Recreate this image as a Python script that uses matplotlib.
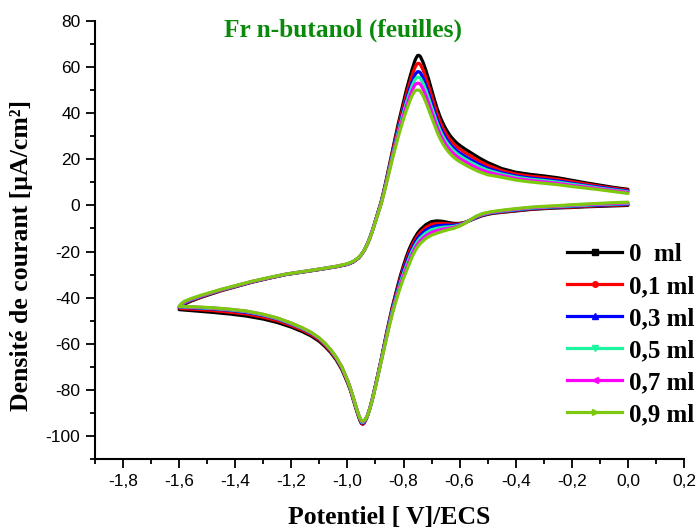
import matplotlib
matplotlib.use("Agg")
import matplotlib.pyplot as plt
from matplotlib.lines import Line2D
from matplotlib.ticker import MultipleLocator, FuncFormatter
import numpy as np

plt.rcParams['axes.unicode_minus'] = False

# ---- data -------------------------------------------------------------
labels = ["0  ml", "0,1 ml", "0,3 ml", "0,5 ml", "0,7 ml", "0,9 ml"]
colors = ["#000000", "#FF0000", "#0000FF", "#1DF5A0", "#FF00FF", "#7DC90F"]
markers = ["s", "o", "^", "v", "<", ">"]

# forward (cathodic) sweep: 0.0 V -> -1.6 V
E_cathodic = [0.0, -0.05, -0.1, -0.15, -0.2, -0.25, -0.3, -0.35, -0.4, -0.45,
              -0.48, -0.50, -0.52, -0.54, -0.56, -0.58, -0.60, -0.62, -0.64, -0.66,
              -0.68, -0.70, -0.72, -0.74, -0.75, -0.76, -0.77, -0.78, -0.79, -0.80,
              -0.81, -0.82, -0.83, -0.84, -0.85, -0.86, -0.87, -0.88, -0.89, -0.90,
              -0.91, -0.92, -0.93, -0.94, -0.945, -0.95, -0.955, -0.96, -0.97, -0.98,
              -0.99, -1.00, -1.02, -1.04, -1.06, -1.08, -1.10, -1.13, -1.16, -1.20,
              -1.25, -1.30, -1.36, -1.42, -1.48, -1.54, -1.57, -1.59, -1.60]

# reverse (anodic) sweep: -1.6 V -> 0.0 V
E_anodic = [-1.60, -1.59, -1.58, -1.57, -1.555, -1.54, -1.52, -1.50, -1.45, -1.40,
            -1.34, -1.28, -1.22, -1.16, -1.10, -1.04, -1.00, -0.98, -0.96, -0.95,
            -0.94, -0.93, -0.92, -0.91, -0.90, -0.89, -0.88, -0.87, -0.86, -0.85,
            -0.84, -0.83, -0.82, -0.81, -0.80, -0.79, -0.78, -0.77, -0.76, -0.755,
            -0.75, -0.745, -0.74, -0.73, -0.72, -0.71, -0.70, -0.69, -0.68, -0.67,
            -0.66, -0.65, -0.64, -0.63, -0.62, -0.61, -0.60, -0.58, -0.56, -0.53,
            -0.50, -0.45, -0.40, -0.35, -0.30, -0.25, -0.20, -0.15, -0.10, -0.05,
            0.0]

# current densities (uA/cm2), one list per added volume
j_cath_0 = [0.0, -0.2, -0.4, -0.6, -0.9, -1.1, -1.4, -1.8, -2.4, -3.0,
            -3.4, -3.9, -4.5, -5.4, -6.4, -7.3, -7.8, -7.8, -7.4, -6.9,
            -6.7, -7.0, -8.3, -10.5, -12.0, -14.0, -16.3, -19.0, -22.3, -26.0,
            -30.0, -34.5, -39.2, -44.0, -49.4, -55.0, -61.0, -67.0, -72.6, -78.0,
            -83.3, -88.0, -91.8, -94.2, -94.8, -94.6, -93.4, -91.8, -88.0, -84.0,
            -80.0, -76.8, -71.2, -67.0, -63.8, -61.2, -59.0, -56.6, -54.8, -52.8,
            -50.8, -49.3, -48.0, -47.1, -46.4, -45.8, -45.5, -45.3, -45.2]
j_cath_01 = [0.3, 0.1, -0.1, -0.4, -0.7, -0.9, -1.2, -1.6, -2.2, -2.8,
             -3.2, -3.7, -4.3, -5.2, -6.3, -7.4, -8.0, -8.2, -8.0, -7.8,
             -7.8, -8.2, -9.5, -11.7, -13.2, -15.2, -17.5, -20.3, -23.6, -27.1,
             -31.0, -35.4, -39.9, -44.6, -49.9, -55.4, -61.3, -67.2, -72.8, -78.2,
             -83.4, -88.0, -91.9, -94.4, -95.0, -94.6, -93.0, -91.4, -87.6, -83.6,
             -79.6, -76.4, -70.7, -66.5, -63.3, -60.6, -58.4, -56.0, -54.1, -52.1,
             -50.0, -48.5, -47.1, -46.3, -45.6, -45.1, -44.9, -44.7, -44.6]
j_cath_03 = [0.6, 0.4, 0.1, -0.1, -0.4, -0.7, -1.0, -1.4, -2.0, -2.6,
             -3.1, -3.5, -4.1, -5.1, -6.3, -7.5, -8.3, -8.6, -8.6, -8.6,
             -8.8, -9.4, -10.7, -12.9, -14.4, -16.4, -18.8, -21.6, -24.8, -28.2,
             -32.0, -36.2, -40.6, -45.3, -50.4, -55.9, -61.6, -67.4, -72.9, -78.3,
             -83.5, -88.1, -91.7, -93.9, -94.5, -94.2, -92.6, -91.0, -87.3, -83.3,
             -79.3, -76.0, -70.3, -66.1, -62.8, -60.2, -57.9, -55.4, -53.5, -51.5,
             -49.3, -47.7, -46.4, -45.5, -44.9, -44.5, -44.3, -44.2, -44.2]
j_cath_05 = [0.8, 0.6, 0.4, 0.1, -0.2, -0.5, -0.8, -1.2, -1.8, -2.5,
             -2.9, -3.4, -4.0, -4.9, -6.2, -7.5, -8.5, -9.1, -9.3, -9.5,
             -9.9, -10.5, -11.9, -14.1, -15.6, -17.6, -20.0, -22.9, -26.1, -29.4,
             -33.0, -37.1, -41.4, -45.9, -51.0, -56.3, -62.0, -67.6, -73.1, -78.5,
             -83.6, -88.1, -91.7, -93.7, -94.2, -93.9, -92.5, -90.9, -87.2, -83.2,
             -79.2, -75.9, -70.2, -66.0, -62.7, -60.0, -57.7, -55.2, -53.4, -51.3,
             -49.1, -47.5, -46.1, -45.3, -44.7, -44.3, -44.1, -44.0, -44.0]
j_cath_07 = [1.1, 0.9, 0.6, 0.4, 0.1, -0.3, -0.6, -1.0, -1.6, -2.3,
             -2.8, -3.2, -3.8, -4.8, -6.2, -7.6, -8.8, -9.5, -9.9, -10.3,
             -10.9, -11.7, -13.1, -15.3, -16.8, -18.8, -21.3, -24.2, -27.3, -30.5,
             -34.0, -37.9, -42.1, -46.6, -51.5, -56.8, -62.3, -67.8, -73.2, -78.6,
             -83.7, -88.2, -91.6, -93.4, -93.9, -93.5, -92.4, -90.9, -87.1, -83.1,
             -79.1, -75.8, -70.1, -65.9, -62.6, -59.9, -57.6, -55.1, -53.2, -51.1,
             -48.9, -47.3, -45.9, -45.1, -44.5, -44.1, -44.0, -43.9, -43.9]
j_cath_09 = [1.4, 1.2, 0.9, 0.6, 0.3, -0.1, -0.4, -0.8, -1.4, -2.1,
             -2.6, -3.0, -3.6, -4.6, -6.1, -7.7, -9.0, -9.9, -10.5, -11.2,
             -12.0, -12.9, -14.3, -16.5, -18.0, -20.0, -22.5, -25.5, -28.6, -31.6,
             -35.0, -38.8, -42.8, -47.2, -52.0, -57.2, -62.6, -68.0, -73.4, -78.8,
             -83.8, -88.2, -91.6, -93.3, -93.6, -93.3, -92.3, -90.8, -87.0, -83.0,
             -79.0, -75.7, -70.0, -65.8, -62.5, -59.8, -57.5, -55.0, -53.1, -51.0,
             -48.8, -47.2, -45.8, -45.0, -44.4, -44.0, -43.9, -43.8, -43.8]

j_anod_0 = [-45.2, -43.6, -42.8, -42.2, -41.4, -40.7, -39.8, -39.0, -37.0, -35.3,
            -33.3, -31.6, -30.0, -28.9, -27.8, -26.6, -25.6, -24.6, -22.8, -21.3,
            -19.5, -17.0, -14.0, -10.5, -6.5, -2.5, 1.5, 6.5, 12.0, 17.8,
            23.5, 29.2, 34.8, 40.0, 45.0, 50.0, 54.5, 58.8, 62.6, 64.0,
            65.0, 65.1, 64.6, 62.0, 58.5, 54.5, 50.2, 46.0, 42.0, 38.6,
            35.8, 33.4, 31.4, 29.7, 28.3, 27.1, 26.1, 24.4, 22.9, 20.6,
            18.6, 16.0, 14.4, 13.5, 12.8, 12.0, 10.9, 9.8, 8.8, 7.8,
            7.0]
j_anod_01 = [-44.6, -43.3, -42.5, -41.9, -41.1, -40.5, -39.6, -38.8, -36.9, -35.2,
             -33.2, -31.5, -30.0, -28.9, -27.8, -26.6, -25.5, -24.5, -22.8, -21.3,
             -19.5, -17.0, -14.0, -10.6, -6.6, -2.7, 1.3, 6.2, 11.5, 17.2,
             22.7, 28.2, 33.5, 38.5, 43.3, 48.0, 52.2, 56.2, 59.6, 60.8,
             61.6, 61.6, 61.2, 58.7, 55.3, 51.5, 47.4, 43.5, 39.7, 36.4,
             33.7, 31.4, 29.5, 27.9, 26.6, 25.4, 24.5, 22.8, 21.4, 19.2,
             17.4, 15.1, 13.6, 12.7, 12.1, 11.3, 10.3, 9.3, 8.3, 7.4,
             6.6]
j_anod_03 = [-44.2, -43.0, -42.2, -41.6, -40.9, -40.2, -39.4, -38.6, -36.7, -35.1,
             -33.1, -31.5, -29.9, -28.8, -27.7, -26.5, -25.5, -24.5, -22.7, -21.3,
             -19.5, -17.0, -14.1, -10.6, -6.7, -2.8, 1.0, 5.8, 11.1, 16.5,
             21.9, 27.1, 32.2, 36.9, 41.5, 45.9, 49.8, 53.5, 56.5, 57.4,
             58.0, 58.0, 57.6, 55.2, 52.0, 48.4, 44.6, 40.8, 37.2, 34.1,
             31.6, 29.4, 27.6, 26.0, 24.8, 23.7, 22.8, 21.2, 19.8, 17.8,
             16.1, 14.2, 12.8, 11.9, 11.3, 10.6, 9.6, 8.7, 7.9, 7.0,
             6.2]
j_anod_05 = [-44.0, -42.8, -42.0, -41.4, -40.7, -40.1, -39.2, -38.5, -36.6, -35.0,
             -33.0, -31.4, -29.9, -28.8, -27.7, -26.5, -25.4, -24.4, -22.7, -21.2,
             -19.5, -17.1, -14.1, -10.7, -6.8, -2.9, 0.9, 5.6, 10.7, 16.1,
             21.3, 26.4, 31.3, 35.9, 40.3, 44.5, 48.2, 51.7, 54.4, 55.2,
             55.6, 55.6, 55.2, 52.9, 49.8, 46.3, 42.6, 39.1, 35.6, 32.6,
             30.1, 28.0, 26.3, 24.8, 23.6, 22.5, 21.6, 20.1, 18.7, 16.8,
             15.3, 13.6, 12.3, 11.4, 10.8, 10.1, 9.2, 8.4, 7.5, 6.7,
             5.9]
j_anod_07 = [-43.9, -42.6, -41.8, -41.2, -40.5, -39.9, -39.1, -38.4, -36.5, -34.9,
             -33.0, -31.4, -29.8, -28.7, -27.6, -26.4, -25.4, -24.4, -22.6, -21.2,
             -19.5, -17.1, -14.2, -10.7, -6.9, -3.1, 0.7, 5.3, 10.4, 15.6,
             20.7, 25.6, 30.4, 34.8, 39.0, 43.0, 46.5, 49.8, 52.2, 52.8,
             53.0, 53.0, 52.6, 50.4, 47.5, 44.1, 40.6, 37.2, 33.8, 31.0,
             28.6, 26.6, 24.9, 23.5, 22.3, 21.3, 20.4, 19.0, 17.6, 15.8,
             14.4, 13.0, 11.7, 10.9, 10.2, 9.6, 8.7, 8.0, 7.2, 6.4,
             5.6]
j_anod_09 = [-43.8, -42.3, -41.5, -41.0, -40.3, -39.7, -38.9, -38.2, -36.4, -34.8,
             -32.9, -31.3, -29.8, -28.7, -27.6, -26.4, -25.3, -24.3, -22.6, -21.2,
             -19.5, -17.1, -14.2, -10.8, -7.0, -3.2, 0.5, 5.0, 10.0, 15.1,
             20.0, 24.7, 29.3, 33.5, 37.5, 41.2, 44.5, 47.5, 49.6, 50.0,
             50.0, 50.0, 49.6, 47.5, 44.7, 41.5, 38.2, 35.0, 31.8, 29.1,
             26.8, 24.9, 23.3, 21.9, 20.8, 19.8, 19.0, 17.6, 16.3, 14.6,
             13.3, 12.2, 11.0, 10.2, 9.6, 9.0, 8.2, 7.5, 6.8, 6.0,
             5.2]

cathodic = [j_cath_0, j_cath_01, j_cath_03, j_cath_05, j_cath_07, j_cath_09]
anodic = [j_anod_0, j_anod_01, j_anod_03, j_anod_05, j_anod_07, j_anod_09]

x_ticks = [-1.8, -1.6, -1.4, -1.2, -1.0, -0.8, -0.6, -0.4, -0.2, 0.0, 0.2]
y_ticks = [-100, -80, -60, -40, -20, 0, 20, 40, 60, 80]

# ---- figure -----------------------------------------------------------
fig = plt.figure(figsize=(6.97, 5.31), dpi=100)
ax = fig.add_axes([95 / 697, 1 - 459 / 531, 589 / 697, 438 / 531])

for jc, ja, col in zip(cathodic, anodic, colors):
    E = np.concatenate([E_cathodic, E_anodic[1:]])
    j = np.concatenate([jc, ja[1:]])
    ax.plot(E, j, color=col, lw=2.3, solid_joinstyle="round", solid_capstyle="round")

ax.set_xlim(-1.9, 0.2)
ax.set_ylim(-110, 80)
ax.set_xticks(x_ticks)
ax.set_yticks(y_ticks)
ax.xaxis.set_minor_locator(MultipleLocator(0.1))
ax.yaxis.set_minor_locator(MultipleLocator(10))
ax.xaxis.set_major_formatter(
    FuncFormatter(lambda v, p: f"{v:.1f}".replace(".", ",").replace("-0,0", "0,0")))
ax.yaxis.set_major_formatter(FuncFormatter(lambda v, p: f"{v:.0f}"))

for side in ("top", "right"):
    ax.spines[side].set_visible(False)
for side in ("left", "bottom"):
    ax.spines[side].set_linewidth(1.5)

ax.tick_params(which="major", direction="out", length=6.5, width=1.3, pad=4,
               labelsize=12.5, colors="black")
ax.tick_params(which="minor", direction="out", length=3.6, width=1.3)
for lab in ax.get_xticklabels() + ax.get_yticklabels():
    lab.set_fontfamily("Liberation Sans")

ax.set_xlabel("Potentiel [ V]/ECS", fontfamily="Liberation Serif", fontweight="bold",
              fontsize=18.5)
ax.set_ylabel("Densité de courant [µA/cm²]", fontfamily="Liberation Serif",
              fontweight="bold", fontsize=18.5)
ax.xaxis.set_label_coords(0.5, -0.108)
ax.yaxis.set_label_coords(-0.105, 0.4635)
ax.xaxis.label.set_va("top")

fig.text(343 / 697, 1 - 30 / 531, "Fr n-butanol (feuilles)", color="#0A8A0A",
         fontfamily="Liberation Serif", fontweight="bold", fontsize=18.3,
         ha="center", va="center")

handles = [Line2D([], [], color=c, lw=2.3, marker=m, markersize=4,
                  markerfacecolor=c, markeredgecolor=c)
           for c, m in zip(colors, markers)]
leg = fig.legend(handles, labels, loc="upper left",
                 bbox_to_anchor=(567 / 697, 1 - 243 / 531), frameon=False,
                 borderpad=0, borderaxespad=0, handlelength=2.2, handletextpad=0.28,
                 labelspacing=0.36, numpoints=1,
                 prop={"family": "Liberation Serif", "weight": "bold", "size": 18})

fig.savefig("out.png", dpi=100)
